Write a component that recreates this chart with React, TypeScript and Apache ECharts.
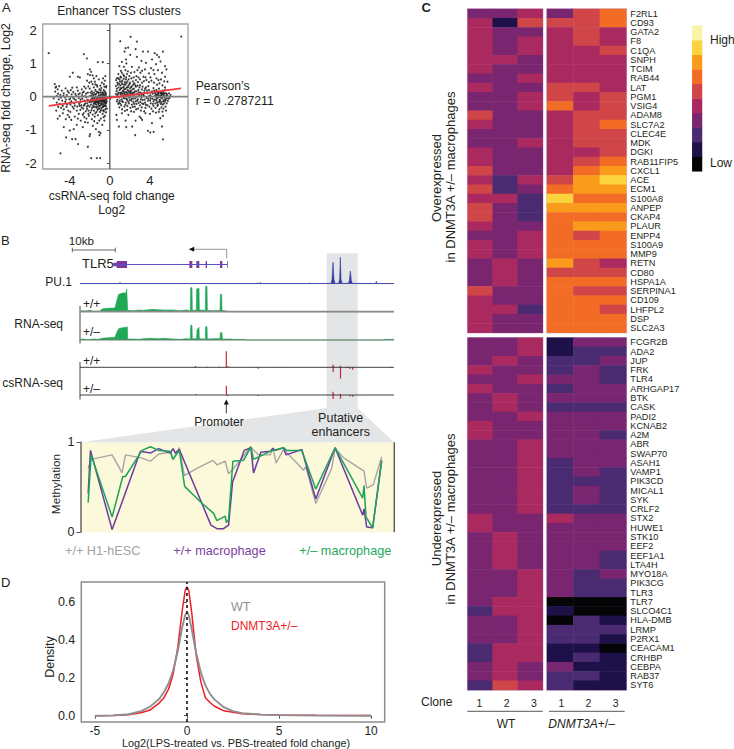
import React, { useEffect, useRef } from "react";
import * as echarts from "echarts";

const FONT = "Liberation Sans";
const INK = "#231f20";

// Panel A: log2 fold changes
const scatterLeft: number[][] = [
[-6.1,1.31],[-2.6,1.28],[-2.3,1.15],[-1.2,1.04],[-.7,1.04],[-3.7,.72],[-4,.6],[-3.2,.6],[-3,.58],[-2,.82],[-1.87,.75],[-2.2,.68],[-1.97,.65],[-1.6,.55],[-1.1,.52],[-1.85,.45],[-2.05,.42],[-.8,.42],[-.6,.38],[-1.3,.35],
[-4.93,-1.71],[-1.87,-1.85],[-1.3,-1.85],[-.97,-1.85],[-2.2,-1.51],[-3.17,-1.43],[-3.43,-1.28],[-3.77,-1.28],[-4.37,-1.23],[-2.03,-1.19],[-1.97,-1.13],[-1.03,-1.16],[-.93,-1.09],[-1.1,-1.06],[-4,-1.02],[-3.6,-.98],[-4.6,-.92],[-3.3,-.85],[-2.7,-.92],[-1.4,-.98],[-1.7,-.88],[-.75,-.85],[-1.25,-.8],[-2.2,-.78],[-2.9,-.72],[-3.85,-.7],[-4.4,-.68],[-5.2,-.66],[-5,-.58],[-4.2,-.55],[-3.5,-.6],[-2.55,-.62],[-1.8,-.68],[-.9,-.66],[-.55,-.72],[-1.5,-.6],[-2.1,-.58],[-3.1,-.52],[-3.95,-.46],[-4.7,-.5],[-5.35,-.42],
[-5.5,.38],[-5.35,.3],[-5.2,.22],[-5.45,.15],[-5.05,.32],[-4.8,.18],[-4.6,.1],[-4.95,.05],[-5.3,.02],[-5.6,-.05],[-5.1,-.08],[-4.75,-.12],[-4.5,-.02],[-4.3,.05],[-4.1,.12],[-3.9,.2],[-3.65,.14],[-3.45,.08],[-3.2,.18],[-3,.1],[-2.8,.22],[-2.6,.15],[-2.4,.25],[-2.2,.12],[-2,.24],[-1.8,.16],[-1.6,.28],[-1.45,.2],[-1.25,.3],[-1.05,.22],[-.85,.26],[-.62,.2],[-.45,.12],[-.38,.28],
[-5.3,-.18],[-5,-.22],[-4.7,-.28],[-4.45,-.16],[-4.25,-.24],[-4.05,-.08],[-3.85,-.14],[-3.7,-.02],[-3.55,-.2],[-3.4,-.1],[-3.25,-.3],[-3.1,-.04],[-2.95,-.16],[-2.85,-.26],[-2.75,-.06],[-2.65,-.36],[-2.55,-.12],[-2.45,-.2],[-2.35,-.02],[-2.3,-.3],[-2.2,-.1],[-2.12,-.42],[-2.05,-.16],[-1.98,.02],[-1.9,-.24],[-1.85,-.08],[-1.78,-.34],[-1.72,-.14],[-1.66,.05],[-1.6,-.2],[-1.55,-.04],[-1.5,-.3],[-1.44,-.12],[-1.38,.08],[-1.33,-.24],[-1.28,-.06],[-1.22,-.4],[-1.18,-.16],[-1.12,.04],[-1.07,-.28],[-1.02,-.1],[-.98,.12],[-.93,-.2],[-.88,-.03],[-.83,-.34],[-.78,-.14],[-.74,.07],[-.7,-.24],[-.65,-.06],[-.6,-.44],[-.56,-.16],[-.52,.03],[-.48,-.28],[-.44,-.08],[-.4,.09],[-.36,-.18],[-.32,-.02],[-.3,-.36],
[-3.6,-.36],[-3.3,-.42],[-2.95,-.4],[-2.62,-.5],[-2.4,-.44],[-2.15,-.52],[-1.95,-.48],[-1.7,-.54],[-1.45,-.5],[-1.2,-.56],[-.98,-.46],[-.72,-.52],[-.5,-.58],[-4.6,-.38],[-4.15,-.42],[-1.92,.12],[-1.58,.12],[-1.2,.14],[-.98,.04],[-.72,.02],[-.58,.06],[-2.5,.02],[-2.78,.05],[-3.05,-.22],[-2.25,-.2],[-1.75,-.02],[-1.52,-.18],[-1.35,-.14],[-1.15,-.22],[-.95,-.12],[-.82,-.08],[-.68,-.14],[-.55,-.1],[-.42,-.22],[-1.62,-.1],[-1.42,-.02],[-1.25,-.3],[-1.02,-.36],[-.85,-.24],[-.64,-.3],[-.46,-.38],[-2.02,-.3],[-2.3,-.12],[-1.88,-.16],[-1.68,-.26],[-1.48,-.22],[-1.3,-.1],[-1.1,-.14],[-.9,-.06],[-.76,-.02],[-.6,-.2],[-.5,-.02],
[-5.42,.27],[-5.17,.09],[-4.88,-.03],[-4.63,.03],[-4.39,-.09],[-4.22,.17],[-4.03,-.19],[-3.81,.07],[-3.58,-.07],[-3.36,.02],[-3.13,.07],[-2.92,-.09],[-2.71,.12],[-2.53,-.24],[-2.37,.09],[-2.18,-.27],[-1.94,-.11],[-1.81,.03],[-1.71,-.06],[-1.63,-.31],[-1.53,-.13],[-1.41,-.17],[-1.36,-.33],[-1.27,-.17],[-1.21,-.04],[-1.16,-.09],[-1.09,-.19],[-1.04,-.02],[-.97,-.27],[-.91,-.13],[-.86,.06],[-.81,-.19],[-.75,-.1],[-.71,-.31],[-.67,-.01],[-.62,-.11],[-.57,-.26],[-.53,-.14],[-.47,-.05],[-.43,-.17],[-.39,-.29],[-.35,-.09],[-.31,-.14],
[-1.76,.09],[-1.48,.06],[-1.33,.15],[-1.14,.11],[-.92,.19],[-.78,.13],[-.66,.11],[-.51,.16],[-.41,.05],[-2.6,-.27],[-2.81,-.33],[-3.02,-.28],[-3.49,-.27],[-3.72,-.31],[-3.93,-.24],[-4.33,-.31],[-4.87,-.34],[-5.15,-.31],[-1.58,-.42],[-1.33,-.46],[-1.14,-.35],[-.89,-.41],[-.68,-.41],[-.39,-.47],[-2.28,-.37],[-1.84,-.41],[-2.48,-.77],[-1.56,-.74],[-1.05,-.72],[-.62,-.62],[-3.2,-.66],[-4.05,-.62],[-2.7,-.55],[-2.33,-.66],[-.35,.32],[-.55,.3],[-.95,.33],[-1.45,.37],[-1.72,.38],[-2.15,.31],[-2.55,.3],[-3.3,.28],[-3.75,.27],[-4.42,.25],[-.5,.48],[-1.5,.45],[-2.28,.48],[-.68,.55],[-1.35,.62],[-1.72,.64],[-.45,.62]
];
const scatterRight: number[][] = [
[7.13,1.81],[2.07,1.8],[1.03,1.67],[2.7,1.66],[1.57,1.46],[1.83,1.48],[2.57,1.43],[1.47,1.36],[3.3,1.36],[3.8,1.36],[4.47,1.31],[5.3,1.36],[4.7,1.26],[4.9,1.19],[2.03,1.26],[2.7,1.2],[1.6,1.12],[1.2,1.05],[1.65,1],[3.15,1.08],[3.6,1.02],[4.2,1.12],[5.05,1.06],[4.6,.98],[5.5,.92],[5.65,.82],[.95,.92],[1.4,.9],[2.2,.9],[2.9,.88],[3.5,.82],[4.1,.86],[4.8,.8],[5.2,.72],[1.1,.78],[1.8,.76],[2.45,.74],[3.05,.72],[3.9,.7],[4.45,.68],[5.5,.6],[.85,.68],[1.35,.66],[1.95,.62],[2.65,.62],[3.35,.6],[4.65,.55],[5.1,.52],[5.75,.45],
[.7,-.7],[.9,-.9],[1.57,-.72],[1.63,-.92],[2.23,-.9],[2.57,-.72],[2.97,-.6],[3.1,-.65],[3.22,-.7],[2.53,-1.16],[3.8,-1.03],[4.03,-1.08],[4.37,-1.06],[4.2,-.8],[5.2,-.9],[5.3,-1.29],[5.03,-.65],[5.3,-.58],[.65,-.55],[1.2,-.5],[1.85,-.55],[2.4,-.46],[3.55,-.5],[4,-.52],[4.6,-.48],[5.6,-.42],
[.62,.5],[.75,.42],[.85,.55],[1,.46],[1.12,.58],[1.25,.48],[1.38,.54],[1.5,.44],[1.62,.58],[1.75,.46],[1.88,.52],[2,.42],[2.15,.55],[2.3,.46],[2.45,.4],[2.6,.5],[2.8,.44],[3,.52],[3.2,.42],[3.4,.47],[3.65,.5],[3.9,.44],[4.15,.48],[4.4,.42],[4.7,.36],[4.95,.4],[5.25,.34],[5.5,.28],
[.6,.32],[.7,.24],[.78,.36],[.88,.28],[.98,.2],[1.05,.34],[1.14,.26],[1.22,.38],[1.3,.18],[1.38,.3],[1.46,.22],[1.55,.36],[1.63,.14],[1.7,.28],[1.78,.2],[1.86,.34],[1.94,.12],[2.02,.26],[2.1,.18],[2.2,.32],[2.3,.1],[2.4,.24],[2.5,.16],[2.6,.3],[2.72,.08],[2.84,.2],[2.96,.28],[3.08,.12],[3.2,.22],[3.32,.06],[3.45,.18],[3.6,.28],[3.75,.1],[3.9,.2],[4.05,.04],[4.2,.16],[4.35,.26],[4.5,.1],[4.65,.2],[4.78,.06],[4.9,.24],[5.02,.14],[5.14,.02],[5.26,.18],[5.38,.08],[5.5,.2],[5.62,.1],[5.75,.02],[5.9,.1],[6.05,.05],
[.6,.08],[.72,.02],[.84,.12],[.96,-.02],[1.08,.06],[1.18,-.08],[1.28,.03],[1.4,.1],[1.5,-.05],[1.6,.04],[1.72,-.1],[1.82,.06],[1.92,-.03],[2.04,.08],[2.14,-.12],[2.25,.02],[2.35,-.06],[2.46,.06],[2.58,-.14],[2.68,0],[2.8,-.08],[2.92,.05],[3.04,-.16],[3.16,-.02],[3.28,-.1],[3.4,.03],[3.52,-.18],[3.66,-.04],[3.8,-.12],[3.94,.02],[4.08,-.2],[4.22,-.06],[4.36,-.14],[4.48,.02],[4.6,-.08],[4.72,-.18],[4.84,-.02],[4.96,-.1],[5.08,-.22],[5.2,-.05],[5.32,-.14],[5.44,-.02],[5.56,-.1],[5.68,-.2],[5.82,-.06],[5.96,-.04],
[.7,-.14],[.85,-.22],[1,-.12],[1.15,-.26],[1.3,-.16],[1.45,-.3],[1.6,-.18],[1.75,-.28],[1.9,-.2],[2.05,-.34],[2.2,-.24],[2.35,-.16],[2.5,-.3],[2.65,-.22],[2.82,-.36],[3,-.26],[3.18,-.32],[3.36,-.22],[3.55,-.34],[3.75,-.26],[3.95,-.3],[4.15,-.36],[4.35,-.28],[4.55,-.34],[4.75,-.28],[4.95,-.38],[5.15,-.32],[5.35,-.36],[5.55,-.3],
[1.15,.12],[1.35,.16],[1.52,.06],[1.7,.12],[1.88,.02],[2.08,.14],[2.28,.22],[4.62,.06],[4.82,.12],[5.05,-.02],[5.22,.08],[5.4,-.1],[5.58,.02],[4.7,-.04],[4.98,.02],[5.3,.0],[5.1,.1],[4.55,.14],
[.67,.17],[.81,.07],[.91,.39],[1.02,.11],[1.09,.24],[1.17,.43],[1.24,.09],[1.33,.27],[1.42,.37],[1.48,.13],[1.58,.24],[1.66,.41],[1.74,.07],[1.81,.29],[1.9,.17],[1.97,.38],[2.06,.01],[2.13,.29],[2.24,.11],[2.34,.37],[2.44,.13],[2.54,.34],[2.66,.16],[2.77,.33],[2.9,.13],[3.01,.35],[3.14,.05],[3.27,.3],[3.38,.11],[3.53,.24],[3.7,.18],[3.83,.32],[4,.12],[4.27,.09],[4.44,.18],[4.74,.13],[4.88,.09],[5.17,.11],[5.33,.14],[5.47,.1],[5.7,.07],
[.76,-.09],[.91,-.17],[1.04,-.21],[1.23,-.14],[1.36,-.04],[1.55,-.24],[1.67,-.06],[1.84,-.15],[1.99,-.1],[2.18,-.06],[2.29,-.31],[2.42,-.22],[2.55,-.05],[2.73,-.12],[2.87,-.19],[3.09,-.08],[3.22,-.21],[3.47,-.09],[3.6,-.25],[3.86,-.06],[4.02,-.12],[4.28,-.22],[4.41,-.09],[4.54,-.2],[4.67,-.12],[4.8,-.24],[4.91,-.16],[5.03,-.12],[5.13,-.17],[5.26,-.24],[5.38,-.21],[5.5,-.15],[5.63,-.05],[5.78,-.13],[4.58,.01],[4.77,.03],[5.12,.05],[5.36,.03],[.95,-.32],[1.22,-.38],[1.5,-.43],[1.72,-.4],[2.12,-.44],[2.62,-.38],[3.1,-.42],[3.42,-.44],[4.3,-.44],[4.88,-.46],[5.25,-.45],[.97,.52],[1.42,.62],[1.7,.68],[2.38,.58],[2.85,.58],[3.55,.58],[4.05,.58],[4.85,.5],[5.42,.46],[1.2,.72],[1.55,.8],[2.1,.72],[2.75,.8],[3.22,.78],[4.35,.8],[1.05,.6],[1.6,.52],[.72,.56]
];
const regressionLine = [[-6.1,-.28],[7.1,.25]];
const zeroH = [[-6.7,0],[7.8,0]];
const zeroV = [[0,-2.18],[0,2.19]];

// Panel B: tracks along the locus, x in locus bins
const geneSpan = [[340,0],[683,0]];
const exons = [[340,352,.5],[350,381,1],[568,577,1],[589,598,1],[617,621,1],[660,667,1],[681,683,1]];
const pu1Signal = [[240,.5],[358,.5],[360,4],[362,.5],[770,.5],[772,3],[774,.5],[779,.5],[781,4],[783,.5],[927,.5],[929,3],[931,.5],[993,1],[996,12],[999,64],[1002,12],[1005,1],[1016,1],[1019,14],[1021,79],[1023,14],[1026,1],[1045,1],[1048,9],[1051,38],[1054,9],[1057,1],[1127,.5],[1129,7],[1131,.5],[1182,.5]];
const rnaWT = [[240,1],[245,3],[255,2],[270,4],[280,1],[300,2],[306,8],[320,10],[345,11],[350,32],[356,52],[368,56],[378,56],[380,68],[382,68],[383,4],[400,3],[415,5],[430,4],[445,6],[460,7],[475,6],[490,5],[520,5],[540,3],[560,5],[571,3],[572,72],[576,72],[577,4],[589,4],[590,68],[597,70],[598,5],[616,4],[617,76],[621,76],[622,4],[640,3],[660,4],[661,52],[665,52],[666,4],[680,2],[682,0],[1182,0]];
const rnaHet = [[240,2],[250,3],[265,1],[280,3],[295,2],[306,5],[325,7],[345,8],[350,22],[356,34],[368,37],[380,38],[382,40],[383,3],[400,3],[415,2],[430,4],[450,5],[475,4],[490,5],[520,3],[540,2],[560,4],[571,3],[572,44],[576,44],[577,4],[590,4],[591,30],[597,38],[598,4],[616,3],[617,40],[621,40],[622,3],[640,4],[660,4],[661,22],[666,22],[667,3],[690,3],[700,2],[735,2],[737,0],[1150,0],[1152,2],[1182,2]];
const csWT = [[586,4],[622,2],[657,2],[679,48],[684,3],[775,-4],[840,1],[999,8],[999.5,-14],[1001,4],[1021,5],[1021.5,-34],[1046,2],[1050,-5],[1058,-7],[1173,-2],[750,-1],[1040,-2]];
const csHet = [[500,1],[588,3],[679,28],[683,-3],[750,1],[775,-3],[999,10],[999.5,-12],[1002,3],[1021,3],[1021.5,-11],[1050,-4],[1058,-5],[1100,-1]];

// Panel B: CpG methylation, x in locus bins
const methH1 = [[263,.71],[272,.81],[335,.86],[365,.66],[375,.86],[420,.83],[450,.79],[475,.87],[510,.89],[518,.81],[537,.94],[552,.63],[590,.71],[638,.8],[650,.75],[675,.79],[685,.65],[695,.69],[725,.82],[750,.95],[775,.86],[810,.86],[818,.94],[828,.77],[850,.92],[880,.81],[910,.69],[917,.73],[947,.32],[995,.71],[1005,.93],[1030,.83],[1092,.68],[1100,.49],[1120,.53],[1145,.84]];
const methWT = [[263,.43],[270,.91],[335,.03],[420,.9],[450,.88],[475,.93],[510,.88],[518,.93],[525,.88],[537,.92],[632,.08],[650,.04],[670,.04],[685,.08],[697,.56],[732,.91],[752,.94],[760,.66],[782,.89],[810,.9],[818,.93],[826,.91],[850,.94],[858,.86],[905,.92],[947,.37],[1005,.94],[1088,.19],[1092,.26],[1100,.06],[1118,.05],[1145,.8]];
const methHet = [[263,.33],[272,.86],[335,.17],[367,.62],[375,.62],[425,.91],[450,.95],[475,.91],[510,.9],[518,.81],[537,.91],[553,.51],[600,.34],[640,.21],[650,.13],[675,.18],[678,.11],[685,.14],[698,.79],[730,.8],[752,.95],[760,.81],[810,.9],[818,.91],[850,.94],[860,.91],[905,.91],[947,.48],[1005,.94],[1088,.38],[1092,.52],[1098,.17],[1118,.05],[1145,.79]];

// Panel D: density curves
const densityWT = [[-5,0],[-4,.002],[-3.2,.008],[-3,.012],[-2.5,.024],[-2,.048],[-1.5,.09],[-1.25,.125],[-1,.17],[-.75,.24],[-.5,.34],[-.25,.47],[-.1,.53],[0,.545],[.1,.53],[.25,.46],[.5,.33],[.75,.23],[1,.16],[1.25,.115],[1.5,.085],[2,.045],[2.5,.024],[3,.014],[4,.006],[5,.003],[7,.001],[10,0]];
const densityHet = [[-5,0],[-4,.001],[-3.2,.005],[-3,.008],[-2.5,.016],[-2,.03],[-1.5,.068],[-1.25,.095],[-1,.14],[-.75,.22],[-.5,.36],[-.25,.56],[-.1,.66],[0,.68],[.1,.66],[.25,.55],[.5,.32],[.75,.18],[1,.095],[1.25,.07],[1.5,.05],[2,.026],[2.5,.018],[3,.01],[4,.006],[5,.004],[7,.002],[10,.001]];
const zeroDash = [[0,-.033],[0,.705]];

// Panel C: expression level (0 low .. 9 high)
const genesOver = ["F2RL1","CD93","GATA2","F8","C1QA","SNPH","TCIM","RAB44","LAT","PGM1","VSIG4","ADAM8","SLC7A2","CLEC4E","MDK","DGKI","RAB11FIP5","CXCL1","ACE","ECM1","S100A8","ANPEP","CKAP4","PLAUR","ENPP4","S100A9","MMP9","RETN","CD80","HSPA1A","SERPINA1","CD109","LHFPL2","DSP","SLC2A3"];
const overWT = [[3,3,4],[4,1,5],[4,3,3],[4,3,4],[4,3,4],[4,4,3],[4,3,3],[3,3,4],[4,3,3],[3,3,4],[3,3,4],[5,3,3],[4,3,3],[3,3,3],[3,3,4],[4,3,3],[4,3,3],[5,3,3],[4,2,4],[5,2,3],[4,4,2],[5,3,2],[5,3,2],[4,3,3],[3,3,4],[4,3,4],[4,3,4],[3,4,3],[3,4,3],[3,4,3],[5,3,3],[4,3,3],[4,4,2],[4,3,3],[4,3,3]];
const overHet = [[3,5,6],[5,5,6],[4,5,4],[4,5,4],[4,4,5],[4,4,4],[4,4,4],[4,4,4],[5,5,4],[5,4,5],[6,4,5],[4,5,5],[4,5,6],[4,5,5],[4,5,5],[4,4,5],[4,5,6],[4,6,7],[5,7,8],[6,7,7],[8,6,6],[7,7,7],[6,6,6],[6,7,7],[6,5,6],[6,6,6],[6,6,6],[7,5,4],[5,5,5],[6,6,6],[6,5,5],[6,6,6],[6,6,5],[6,6,6],[6,6,6]];
const genesUnder = ["FCGR2B","ADA2","JUP","FRK","TLR4","ARHGAP17","BTK","CASK","PADI2","KCNAB2","A2M","ABR","SWAP70","ASAH1","VAMP1","PIK3CD","MICAL1","SYK","CRLF2","STX2","HUWE1","STK10","EEF2","EEF1A1","LTA4H","MYO18A","PIK3CG","TLR3","TLR7","SLCO4C1","HLA-DMB","LRMP","P2RX1","CEACAM1","CRHBP","CEBPA","RAB37","SYT6"];
const underWT = [[3,3,4],[3,3,4],[3,4,3],[4,3,3],[3,3,4],[4,3,3],[3,4,3],[3,4,3],[3,3,4],[4,3,3],[4,3,3],[3,3,4],[3,3,4],[3,3,4],[3,3,4],[3,3,4],[3,3,4],[3,3,4],[3,3,4],[4,3,3],[4,3,3],[3,4,3],[3,4,3],[3,4,3],[3,4,3],[3,3,4],[3,3,4],[3,3,4],[3,4,4],[2,4,4],[3,3,4],[3,3,4],[3,3,4],[2,4,4],[2,4,4],[3,4,3],[3,4,3],[2,5,4]];
const underHet = [[1,3,3],[1,2,2],[2,2,3],[2,3,2],[3,3,2],[2,3,3],[3,3,3],[2,2,2],[3,3,3],[3,3,3],[3,3,2],[3,3,3],[3,3,3],[2,3,3],[2,3,2],[2,2,2],[2,3,2],[2,3,2],[2,2,2],[4,3,3],[3,3,3],[3,3,3],[3,3,3],[3,3,2],[3,3,2],[3,2,3],[3,2,2],[3,2,2],[0,0,0],[1,0,0],[0,2,1],[2,2,2],[2,2,1],[1,1,0],[1,2,1],[3,1,1],[2,2,1],[2,1,1]];
const clones = ["1","2","3"];
const levels = [0,1,2,3,4,5,6,7,8,9];
const levelColors = ["#050507","#1e1048","#4a2a70","#7a2570","#aa2a60","#d04547","#f36c26","#fb9b1c","#fbd33c","#f8f3a5"];

const G = {
  a: { left: 42.7, top: 24, width: 145.3, height: 145 },
  gene: { left: 80, top: 261, width: 314, height: 7 },
  pu1: { left: 80, top: 257.3, width: 314, height: 26.4 },
  rnaWT: { left: 80, top: 285, width: 314, height: 26.7 },
  rnaHet: { left: 80, top: 313.3, width: 314, height: 26.7 },
  csWT: { left: 80, top: 350.3, width: 314, height: 34 },
  csHet: { left: 80, top: 378, width: 314, height: 34 },
  meth: { left: 80.5, top: 442.3, width: 313.8, height: 90 },
  d: { left: 81.3, top: 582, width: 303.4, height: 140 },
  c1: { left: 467.7, top: 9, width: 75, height: 323.7 },
  c2: { left: 547, top: 9, width: 79.3, height: 323.7 },
  c3: { left: 467.7, top: 337.7, width: 75, height: 352.3 },
  c4: { left: 547, top: 337.7, width: 79.3, height: 352.3 },
  key: { left: 692.3, top: 25.7, width: 9.7, height: 145.6 },
};

const t = (text: string, x: number, y: number, extra: any = {}) => {
  const { rotation, size, fill, align, weight, italic } = extra;
  return {
    type: "text", x, y, rotation: rotation || 0, silent: true,
    style: {
      text, fontFamily: FONT, fontSize: size || 12.5, fill: fill || INK,
      fontWeight: weight || "normal", fontStyle: italic ? "italic" : "normal",
      textAlign: align || "left", align: align || "left",
      textVerticalAlign: "middle", verticalAlign: "middle",
    },
  };
};
const seg = (x1: number, y1: number, x2: number, y2: number, stroke = "#555", lineWidth = 1) => ({
  type: "line", silent: true, shape: { x1, y1, x2, y2 }, style: { stroke, lineWidth },
});
const poly = (points: number[][], fill: string) => ({ type: "polygon", silent: true, shape: { points }, style: { fill } });

function buildOption() {
  const grids = Object.values(G).map((g) => ({ ...g, containLabel: false, show: false, borderWidth: 0 }));
  const idx = Object.fromEntries(Object.keys(G).map((k, i) => [k, i])) as Record<string, number>;
  Object.assign(grids[idx.a], { show: true, borderColor: "#a3a3a3", borderWidth: 1.3 });
  Object.assign(grids[idx.d], { show: true, borderColor: "#8c8c8c", borderWidth: 1.5 });
  Object.assign(grids[idx.meth], { show: true, backgroundColor: "#fbf9da", borderWidth: 0 });
  ["c1", "c2", "c3", "c4"].forEach((k) => Object.assign(grids[idx[k]], { show: true, borderColor: "#d3bdd6", borderWidth: 1.6 }));

  const hidden = (gridIndex: number, min: number, max: number) => ({ type: "value", gridIndex, min, max, show: false });
  const tickAxis = (gridIndex: number, min: number, max: number, values: number[], margin: number, size: number, fmt?: (v: number) => string) => ({
    type: "value", gridIndex, min, max,
    axisLine: { show: false },
    axisTick: { show: true, length: 3, customValues: values, lineStyle: { color: "#555" } },
    axisLabel: { customValues: values, margin, fontSize: size, fontFamily: FONT, color: INK, formatter: fmt },
    splitLine: { show: false },
  });
  const cat = (gridIndex: number, data: string[], show = false, inverse = false) => ({
    type: "category", gridIndex, data, show, inverse,
    axisLine: { show: false }, axisTick: { show: false }, splitLine: { show: false },
    position: "right",
    axisLabel: { show, interval: 0, margin: 4, fontSize: 9.2, fontFamily: FONT, color: INK },
  });

  const xAxis: any[] = [
    tickAxis(idx.a, -6.7, 7.8, [-4, 0, 4], 5, 13),
    hidden(idx.gene, 240, 1182), hidden(idx.pu1, 240, 1182), hidden(idx.rnaWT, 240, 1182), hidden(idx.rnaHet, 240, 1182),
    hidden(idx.csWT, 240, 1182), hidden(idx.csHet, 240, 1182), hidden(idx.meth, 240, 1183),
    tickAxis(idx.d, -5.74, 10.74, [-5, 0, 5, 10], 3, 12),
    cat(idx.c1, clones), cat(idx.c2, clones), cat(idx.c3, clones), cat(idx.c4, clones), cat(idx.key, ["k"]),
  ];
  const yAxis: any[] = [
    tickAxis(idx.a, -2.18, 2.19, [-2, -1, 0, 1, 2], 6, 13),
    hidden(idx.gene, -1, 1), hidden(idx.pu1, 0, 79), hidden(idx.rnaWT, 0, 80), hidden(idx.rnaHet, 0, 80),
    hidden(idx.csWT, -51, 51), hidden(idx.csHet, -51, 51),
    {
      type: "value", gridIndex: idx.meth, min: 0, max: 1, interval: 1,
      axisLine: { show: true, lineStyle: { color: "#666", width: 1.5 } },
      axisTick: { show: true, length: 4, lineStyle: { color: "#555" } },
      axisLabel: { margin: 6, fontSize: 12.5, fontFamily: FONT, color: INK },
      splitLine: { show: false },
    },
    tickAxis(idx.d, -.033, .705, [0, .2, .4, .6], 6, 12.5, (v: number) => v.toFixed(1)),
    cat(idx.c1, genesOver, false, true), cat(idx.c2, genesOver, true, true),
    cat(idx.c3, genesUnder, false, true), cat(idx.c4, genesUnder, true, true),
    cat(idx.key, levels.map(String)),
  ];

  const line = (g: number, data: number[][], color: string, width: number, extra: any = {}) => ({
    type: "line", xAxisIndex: g, yAxisIndex: g, data, symbol: "none", silent: true, clip: false,
    lineStyle: { color, width }, ...extra,
  });
  const area = (g: number, data: number[][], color: string) =>
    line(g, data, color, .6, { areaStyle: { color, opacity: 1 } });
  const bars = (g: number, data: number[][]) => ({
    type: "bar", xAxisIndex: g, yAxisIndex: g, data, barWidth: 1.2, silent: true,
    itemStyle: { color: "#c9283e" },
  });
  const heat = (key: string, rows: number[][]) => {
    const data: number[][] = [];
    rows.forEach((r, y) => r.forEach((v, x) => data.push([x, y, v])));
    return {
      type: "heatmap", xAxisIndex: idx[key], yAxisIndex: idx[key], data, silent: true,
      itemStyle: { borderWidth: 0 }, progressive: 0,
    };
  };

  const series: any[] = [
    line(idx.a, zeroH, "#808080", 1.6),
    line(idx.a, zeroV, "#3a3a3a", 1.1),
    { type: "scatter", xAxisIndex: idx.a, yAxisIndex: idx.a, data: scatterLeft.concat(scatterRight), symbolSize: 2, silent: true, itemStyle: { color: "#1a1a1a", opacity: .85 } },
    line(idx.a, regressionLine, "#ee3a3f", 1.8),

    line(idx.gene, geneSpan, "#5a50c4", 1),
    {
      type: "custom", xAxisIndex: idx.gene, yAxisIndex: idx.gene, data: exons, silent: true, clip: false,
      renderItem: (_: any, api: any) => {
        const a = api.coord([api.value(0), api.value(2)]);
        const b = api.coord([api.value(1), -api.value(2)]);
        return { type: "rect", shape: { x: a[0], y: a[1], width: b[0] - a[0], height: b[1] - a[1] }, style: { fill: "#7d3a9c" } };
      },
    },
    area(idx.pu1, pu1Signal, "#34399f"),
    line(idx.pu1, [[240, .5], [1182, .5]], "#4a4fb0", 1),
    area(idx.rnaWT, rnaWT, "#1fa855"),
    line(idx.rnaWT, [[240, 0], [1182, 0]], "#8a8a8a", 1.7),
    area(idx.rnaHet, rnaHet, "#1fa855"),
    line(idx.rnaHet, [[240, 0], [1182, 0]], "#6f7f74", 1.2),
    bars(idx.csWT, csWT),
    line(idx.csWT, [[240, 0], [1182, 0]], "#2a2a2a", .9),
    bars(idx.csHet, csHet),
    line(idx.csHet, [[240, 0], [1182, 0]], "#2a2a2a", .9),

    line(idx.meth, methH1, "#a6a6a6", 1.4),
    line(idx.meth, methWT, "#6d3aa0", 1.5),
    line(idx.meth, methHet, "#1fa35c", 1.5),

    line(idx.d, densityHet, "#ee1c25", 1.5),
    line(idx.d, densityWT, "#8f8f8f", 1.9),
    line(idx.d, zeroDash, "#111", 1.6, { lineStyle: { color: "#111", width: 1.6, type: [3, 3] } }),

    heat("c1", overWT), heat("c2", overHet), heat("c3", underWT), heat("c4", underHet),
    {
      type: "heatmap", xAxisIndex: idx.key, yAxisIndex: idx.key, silent: true,
      data: levels.map((l, i) => [0, i, l]), itemStyle: { borderWidth: 0 },
    },
  ];
  const heatIdx = series.map((s, i) => (s.type === "heatmap" ? i : -1)).filter((i) => i >= 0);

  const graphic: any[] = [
    // shaded enhancer window
    poly([[326.7, 253.3], [357.7, 253.3], [357.7, 408], [394, 442.3], [81, 442.3], [326.7, 408]], "#e4e5e7"),
    // frame and marks
    seg(394.3, 442.3, 394.3, 532.3, "#555", 1.4),
    seg(80, 306, 80, 343.5, "#666", 1.2),
    seg(80, 362, 80, 399.5, "#666", 1.2),
    seg(72.3, 250, 115.3, 250, "#444", .8), seg(72.3, 247.7, 72.3, 252.3, "#444", .8), seg(115.3, 247.7, 115.3, 252.3, "#444", .8),
    seg(226.7, 258.3, 226.7, 249.3, "#888", .9), seg(226.7, 249.3, 192, 249.3, "#888", .9),
    poly([[188.7, 249.3], [194.2, 246.8], [194.2, 251.8]], "#111"),
    seg(226.3, 413.3, 226.3, 402, "#222", .9),
    poly([[226.3, 399.5], [223.8, 404.5], [228.8, 404.5]], "#111"),
    seg(467.3, 711.3, 542.7, 711.3, "#444", .9), seg(549, 711.3, 624.7, 711.3, "#444", .9),
    // panel letters
    t("A", 2, 7, { size: 13 }), t("B", 1, 240, { size: 13 }), t("C", 421.5, 7, { size: 13, weight: "bold" }), t("D", 1, 582, { size: 13 }),
    // panel A
    t("Enhancer TSS clusters", 119, 10.7, { align: "center", size: 12.1 }),
    t("RNA-seq fold change, Log2", 6, 98, { align: "center", rotation: Math.PI / 2, size: 12.2 }),
    t("csRNA-seq fold change", 111.7, 195.7, { align: "center", size: 12 }),
    t("Log2", 111.7, 209.5, { align: "center", size: 12 }),
    t("Pearson\u2019s", 195.7, 86, { size: 12.2 }),
    t("r = 0 .2787211", 195.7, 100.7, { size: 12.2 }),
    // panel B
    t("10kb", 81.3, 240.7, { align: "center", size: 11.6 }),
    t("TLR5", 82, 263.7, { size: 13 }),
    t("PU.1", 72, 282, { align: "right", size: 12 }),
    t("RNA-seq", 63, 324, { align: "right", size: 12 }),
    t("csRNA-seq", 63, 382.7, { align: "right", size: 12 }),
    t("+/+", 83, 304, { size: 12 }), t("+/\u2013", 83, 332, { size: 12 }),
    t("+/+", 83, 361, { size: 12 }), t("+/\u2013", 83, 389, { size: 12 }),
    t("Promoter", 219, 421.7, { align: "center", size: 12 }),
    t("Putative", 340.7, 418, { align: "center", size: 12.5 }),
    t("enhancers", 340.7, 432.3, { align: "center", size: 12.5 }),
    t("Methylation", 56, 484, { align: "center", rotation: Math.PI / 2, size: 11.8 }),
    t("+/+ H1-hESC", 65, 550.7, { fill: "#a3a3a3", size: 12.7 }),
    t("+/+ macrophage", 173.3, 550.7, { fill: "#7b3fa0", size: 12.7 }),
    t("+/\u2013 macrophage", 299.3, 550.7, { fill: "#1fa85c", size: 12.7 }),
    // panel D
    t("Density", 50, 657, { align: "center", rotation: Math.PI / 2, size: 12.5 }),
    t("Log2(LPS-treated vs. PBS-treated fold change)", 236, 743, { align: "center", size: 10.9 }),
    t("WT", 231, 607, { fill: "#8f8f8f", size: 12.5 }),
    t("DNMT3A+/\u2013", 231, 625.7, { fill: "#ee1c25", size: 12 }),
    // panel C
    t("High", 710, 40, { size: 12 }), t("Low", 710, 163, { size: 12 }),
    t("Overexpressed", 436, 178, { align: "center", rotation: Math.PI / 2, size: 13 }),
    t("in DNMT3A +/\u2013 macrophages", 450.7, 177, { align: "center", rotation: Math.PI / 2, size: 13 }),
    t("Underexpressed", 436, 518.5, { align: "center", rotation: Math.PI / 2, size: 13 }),
    t("in DNMT3A +/\u2013 macrophages", 450.7, 519, { align: "center", rotation: Math.PI / 2, size: 13 }),
    t("Clone", 421, 701.7, { size: 12 }),
    ...[479.3, 506.7, 534, 561.3, 588.3, 615.7].map((x, i) => t(clones[i % 3], x, 702.7, { align: "center", size: 10.5 })),
    t("WT", 506, 724.3, { align: "center", size: 12 }),
    t("DNMT3A", 548.3, 724.3, { italic: true, size: 12 }),
    t("+/\u2013", 597.8, 724.3, { size: 12 }),
  ];

  return {
    animation: false,
    backgroundColor: "#fff",
    textStyle: { fontFamily: FONT },
    grid: grids, xAxis, yAxis, series, graphic,
    visualMap: {
      type: "piecewise", show: false, dimension: 2, seriesIndex: heatIdx,
      pieces: levels.map((value) => ({ value, color: levelColors[value] })),
    },
  };
}

export default function App() {
  const ref = useRef<HTMLDivElement>(null);
  useEffect(() => {
    const chart = echarts.init(ref.current!, undefined, { renderer: "svg" });
    chart.setOption(buildOption() as any);
    return () => chart.dispose();
  }, []);
  return <div ref={ref} style={{ position: "absolute", left: 0, top: 0, width: 734, height: 749 }} />;
}
